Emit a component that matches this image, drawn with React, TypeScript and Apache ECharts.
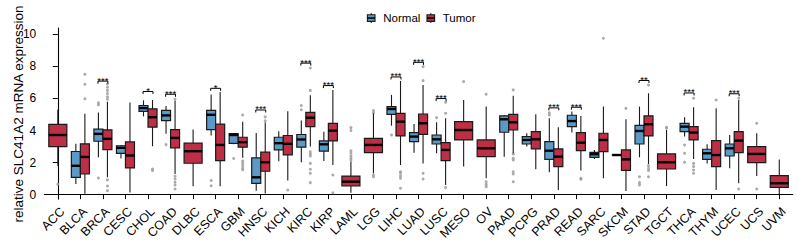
import React, { useEffect, useRef } from "react";
import * as echarts from "echarts";

// Cancer types along the x axis
const categories = [
  "ACC", "BLCA", "BRCA", "CESC", "CHOL", "COAD", "DLBC", "ESCA", "GBM", "HNSC", "KICH",
  "KIRC", "KIRP", "LAML", "LGG", "LIHC", "LUAD", "LUSC", "MESO", "OV", "PAAD", "PCPG",
  "PRAD", "READ", "SARC", "SKCM", "STAD", "TGCT", "THCA", "THYM", "UCEC", "UCS", "UVM",
];

// Box statistics: [lower whisker, Q1, median, Q3, upper whisker]
const normalStats: (number[] | null)[] = [
  null,
  [0.67, 1.08, 1.8, 2.69, 3.17],
  [2.33, 3.33, 3.79, 4.08, 5.12],
  [2.25, 2.57, 2.92, 3.05, 3.1],
  [4.88, 5.19, 5.4, 5.56, 5.88],
  [3.79, 4.62, 4.94, 5.25, 5.52],
  null,
  [3.69, 4.06, 4.98, 5.25, 6.25],
  [3.15, 3.2, 3.72, 3.8, 3.85],
  [0.25, 0.71, 1.08, 2.29, 3.85],
  [2.08, 2.79, 3.21, 3.58, 3.96],
  [2.02, 2.96, 3.44, 3.75, 4.62],
  [2.1, 2.72, 3.14, 3.35, 3.93],
  null,
  null,
  [4.3, 5.01, 5.34, 5.49, 6.22],
  [2.62, 3.31, 3.62, 3.87, 4.41],
  [2.58, 3.16, 3.45, 3.72, 4.51],
  null,
  null,
  [2.37, 3.89, 4.7, 4.91, 4.97],
  [3.0, 3.16, 3.41, 3.62, 3.83],
  [1.39, 2.2, 2.74, 3.31, 4.76],
  [3.87, 4.24, 4.59, 4.95, 5.18],
  [2.22, 2.33, 2.52, 2.64, 2.79],
  [2.45, 2.45, 2.47, 2.5, 2.5],
  [2.33, 3.16, 3.97, 4.32, 5.49],
  null,
  [3.62, 3.93, 4.24, 4.45, 4.82],
  [1.95, 2.2, 2.58, 2.83, 3.14],
  [1.64, 2.41, 2.89, 3.16, 3.72],
  null,
  null,
];

const tumorStats: number[][] = [
  [1.8, 3.0, 3.72, 4.38, 5.3],
  [0.05, 1.29, 2.35, 3.17, 5.04],
  [1.08, 2.81, 3.48, 4.04, 5.8],
  [0.13, 1.67, 2.44, 3.29, 5.75],
  [3.02, 4.21, 4.83, 5.35, 5.9],
  [1.29, 2.92, 3.54, 4.06, 5.85],
  [0.52, 1.96, 2.71, 3.21, 4.06],
  [0.52, 2.12, 3.1, 4.4, 6.4],
  [2.3, 2.96, 3.27, 3.58, 4.54],
  [0.08, 1.46, 2.02, 2.65, 4.5],
  [0.88, 2.48, 3.17, 3.69, 5.2],
  [3.0, 4.24, 4.8, 5.13, 6.2],
  [1.85, 3.35, 3.99, 4.45, 6.53],
  [0.12, 0.54, 0.81, 1.16, 2.06],
  [1.33, 2.62, 3.1, 3.51, 5.07],
  [1.85, 3.66, 4.55, 5.07, 7.09],
  [1.95, 3.76, 4.45, 5.03, 6.84],
  [0.6, 2.12, 2.79, 3.24, 4.76],
  [1.75, 3.41, 4.03, 4.55, 5.9],
  [1.02, 2.37, 2.89, 3.41, 5.49],
  [2.58, 4.03, 4.51, 5.01, 6.17],
  [1.58, 2.85, 3.45, 3.93, 5.01],
  [0.29, 1.75, 2.37, 2.85, 4.2],
  [1.5, 2.74, 3.24, 3.87, 4.91],
  [1.02, 2.68, 3.41, 3.83, 5.49],
  [0.23, 1.52, 2.2, 2.79, 4.7],
  [1.91, 3.66, 4.39, 4.91, 6.32],
  [0.54, 1.6, 2.02, 2.54, 4.03],
  [2.22, 3.41, 3.87, 4.24, 5.45],
  [0.29, 1.75, 2.47, 3.37, 5.38],
  [0.71, 2.62, 3.37, 3.93, 5.9],
  [1.16, 2.0, 2.54, 2.99, 3.83],
  [0.02, 0.46, 0.71, 1.19, 2.2],
];

// Points beyond the whiskers
const normalOutliers: number[][] = [
  [], [], [5.73, 5.6, 1.04], [], [], [3.12], [], [0.88, 0.56], [2.25], [], [],
  [5.29, 5.56], [], [], [], [3.72], [], [4.8], [], [], [], [],
  [5.11, 4.97], [], [], [], [1.12, 0.75, 0.6], [], [3.1, 2.58, 2.02], [], [], [], [],
];

const tumorOutliers: number[][] = [
  [0.65],
  [7.5, 6.88, 5.98],
  [6.9, 6.7, 6.5, 6.3, 6.1, 5.95, 0.92, 0.54, 0.25],
  [],
  [1.6, 1.5],
  [5.95, 1.15, 0.98, 0.77, 0.6, 0.35],
  [],
  [],
  [4.96, 2.1, 1.95, 1.8, 1.65, 1.55],
  [4.85, 4.6],
  [0.29],
  [7.9, 6.5, 2.68, 2.54, 2.41, 1.95, 1.58, 1.33, 0.75],
  [1.23, 0.12],
  [4.18, 4.0, 2.74, 2.58, 2.41, 2.27, 2.16],
  [5.24, 5.11, 1.23, 1.12],
  [1.43, 1.33, 1.16, 1.02, 0.4],
  [7.98, 7.11, 1.33, 0.98],
  [5.76, 5.07, 0.44],
  [7.05],
  [6.26, 0.81, 0.64, 0.5],
  [6.53, 2.54, 2.27, 2.16, 1.43, 1.29, 0.81],
  [],
  [],
  [1.02, 0.96],
  [9.75],
  [5.38],
  [6.84, 1.81, 1.64, 1.5, 1.12],
  [4.2, 4.14],
  [6.01, 1.95, 1.75, 1.54, 1.33],
  [5.9],
  [6.01, 0.35],
  [4.45, 0.35],
  [],
];

// Normal vs Tumor significance marks and the height of each bracket
const signifLabels = [
  "", "", "***", "", "*", "***", "", "*", "", "***", "",
  "***", "***", "", "", "***", "***", "***", "", "", "", "",
  "***", "***", "", "", "**", "", "***", "", "***", "", "",
];
const bracketY = [
  0, 0, 7.08, 0, 6.43, 6.26, 0, 6.63, 0, 5.28, 0,
  8.2, 6.8, 0, 0, 7.34, 8.25, 5.99, 0, 0, 0, 0,
  5.41, 5.45, 0, 0, 7.12, 0, 6.34, 0, 6.29, 0, 0,
];

const yTicks = [0, 2, 4, 6, 8, 10];

const NORMAL_COLOR = "#5B9AC6";
const TUMOR_COLOR = "#BE2F46";
const FONT = "Liberation Sans, Arial, Helvetica, sans-serif";

export default function App() {
  const ref = useRef<HTMLDivElement>(null);

  useEffect(() => {
    if (!ref.current) return;
    const chart = echarts.init(ref.current, null, { renderer: "svg" });

    const idx = categories.map((_, i) => i);

    // [category index, offset, width, low, q1, median, q3, high]
    const normalBoxes: number[][] = [];
    const tumorBoxes: number[][] = [];
    const outlierPts: number[][] = [];
    categories.forEach((_, i) => {
      const n = normalStats[i];
      const paired = !!n;
      if (n) {
        normalBoxes.push([i, -0.2, 0.4, ...n]);
        normalOutliers[i].forEach((v) => outlierPts.push([i - 0.2, v]));
      }
      const off = paired ? 0.2 : 0;
      tumorBoxes.push([i, off, paired ? 0.4 : 0.8, ...tumorStats[i]]);
      tumorOutliers[i].forEach((v) => outlierPts.push([i + off, v]));
    });

    const signifIdx = idx.filter((i) => signifLabels[i] !== "");
    const signifItems = signifIdx.map((i) => [i, bracketY[i]]);
    const signifText = signifIdx.map((i) => signifLabels[i]);

    const boxRenderer = (color: string) => (params: any, api: any) => {
      const x = api.value(0) + api.value(1);
      const w = api.value(2);
      const left = api.coord([x - w / 2, 0])[0];
      const right = api.coord([x + w / 2, 0])[0];
      const cx = api.coord([x, 0])[0];
      const yLow = api.coord([x, api.value(3)])[1];
      const yQ1 = api.coord([x, api.value(4)])[1];
      const yMed = api.coord([x, api.value(5)])[1];
      const yQ3 = api.coord([x, api.value(6)])[1];
      const yHigh = api.coord([x, api.value(7)])[1];
      return {
        type: "group",
        children: [
          {
            type: "line",
            shape: { x1: cx, y1: yHigh, x2: cx, y2: yLow },
            style: { stroke: "#1a1a1a", lineWidth: 1.1 },
          },
          {
            type: "rect",
            shape: { x: left, y: yQ3, width: right - left, height: Math.max(yQ1 - yQ3, 0.5) },
            style: { fill: color, stroke: "#1a1a1a", lineWidth: 1.2 },
          },
          {
            type: "line",
            shape: { x1: left, y1: yMed, x2: right, y2: yMed },
            style: { stroke: "#000", lineWidth: 2.4 },
          },
        ],
      };
    };

    const signifRenderer = (params: any, api: any) => {
      const i = api.value(0);
      const yb = api.coord([i, api.value(1)])[1];
      const xl = api.coord([i - 0.22, 0])[0];
      const xr = api.coord([i + 0.22, 0])[0];
      const cx = api.coord([i, 0])[0];
      return {
        type: "group",
        children: [
          {
            type: "polyline",
            shape: { points: [[xl, yb + 2.5], [xl, yb], [xr, yb], [xr, yb + 2.5]] },
            style: { stroke: "#000", lineWidth: 1, fill: "none" },
          },
          {
            type: "text",
            x: cx,
            y: yb + 4,
            style: {
              text: signifText[params.dataIndex],
              fontSize: 9.5,
              fontFamily: FONT,
              fill: "#000",
              align: "center",
              verticalAlign: "bottom",
            },
          },
        ],
      };
    };

    // Legend keys drawn as small boxplot glyphs
    const legendKey = (x: number, color: string) => ({
      type: "group",
      children: [
        { type: "line", shape: { x1: x + 3.8, y1: 13, x2: x + 3.8, y2: 23 }, style: { stroke: "#1a1a1a", lineWidth: 1 } },
        { type: "rect", shape: { x, y: 14.8, width: 7.6, height: 6.6 }, style: { fill: color, stroke: "#1a1a1a", lineWidth: 1.1 } },
        { type: "line", shape: { x1: x, y1: 18.1, x2: x + 7.6, y2: 18.1 }, style: { stroke: "#000", lineWidth: 1.6 } },
      ],
    });

    chart.setOption({
      animation: false,
      backgroundColor: "#fff",
      textStyle: { fontFamily: FONT },
      grid: { left: 44.3, right: 5.2, top: 28, bottom: 46 },
      xAxis: {
        type: "value",
        min: -0.6,
        max: 32.6,
        splitLine: { show: false },
        axisLine: { show: true, lineStyle: { color: "#000", width: 1.1 } },
        axisTick: { show: true, customValues: idx, length: 4.5, lineStyle: { color: "#000", width: 1 } },
        axisLabel: {
          customValues: idx,
          formatter: (v: number) => categories[Math.round(v)] ?? "",
          rotate: 45,
          fontSize: 12.5,
          color: "#000",
          margin: 6,
          align: "right",
          verticalAlign: "top",
          fontFamily: FONT,
        },
      },
      yAxis: {
        type: "value",
        min: -0.27,
        max: 10.39,
        splitLine: { show: false },
        axisLine: { show: true, lineStyle: { color: "#000", width: 1.1 } },
        axisTick: { show: true, customValues: yTicks, length: 5, lineStyle: { color: "#000", width: 1 } },
        axisLabel: { customValues: yTicks, fontSize: 12, color: "#000", margin: 8, fontFamily: FONT },
      },
      graphic: [
        {
          type: "text",
          x: 18,
          y: 114,
          rotation: Math.PI / 2,
          style: {
            text: "relative SLC41A2 mRNA expression",
            fontSize: 13.5,
            fontFamily: FONT,
            fill: "#000",
            align: "center",
            verticalAlign: "middle",
          },
        },
        legendKey(367.4, NORMAL_COLOR),
        { type: "text", x: 383.3, y: 18.2, style: { text: "Normal", fontSize: 11.5, fontFamily: FONT, fill: "#000", verticalAlign: "middle" } },
        legendKey(427, TUMOR_COLOR),
        { type: "text", x: 442.7, y: 18.2, style: { text: "Tumor", fontSize: 11.5, fontFamily: FONT, fill: "#000", verticalAlign: "middle" } },
      ],
      series: [
        {
          name: "outliers",
          type: "scatter",
          data: outlierPts,
          symbolSize: 3,
          itemStyle: { color: "#9c9c9c", opacity: 0.85 },
          silent: true,
          z: 1,
        },
        {
          name: "Normal",
          type: "custom",
          renderItem: boxRenderer(NORMAL_COLOR),
          data: normalBoxes,
          encode: { x: [0], y: [3, 7] },
          z: 2,
        },
        {
          name: "Tumor",
          type: "custom",
          renderItem: boxRenderer(TUMOR_COLOR),
          data: tumorBoxes,
          encode: { x: [0], y: [3, 7] },
          z: 2,
        },
        {
          name: "signif",
          type: "custom",
          renderItem: signifRenderer,
          data: signifItems,
          encode: { x: [0], y: [1] },
          z: 3,
        },
      ],
    });

    return () => chart.dispose();
  }, []);

  return (
    <div
      ref={ref}
      style={{ position: "fixed", left: 0, top: 0, width: 798, height: 245, background: "#fff" }}
    />
  );
}
